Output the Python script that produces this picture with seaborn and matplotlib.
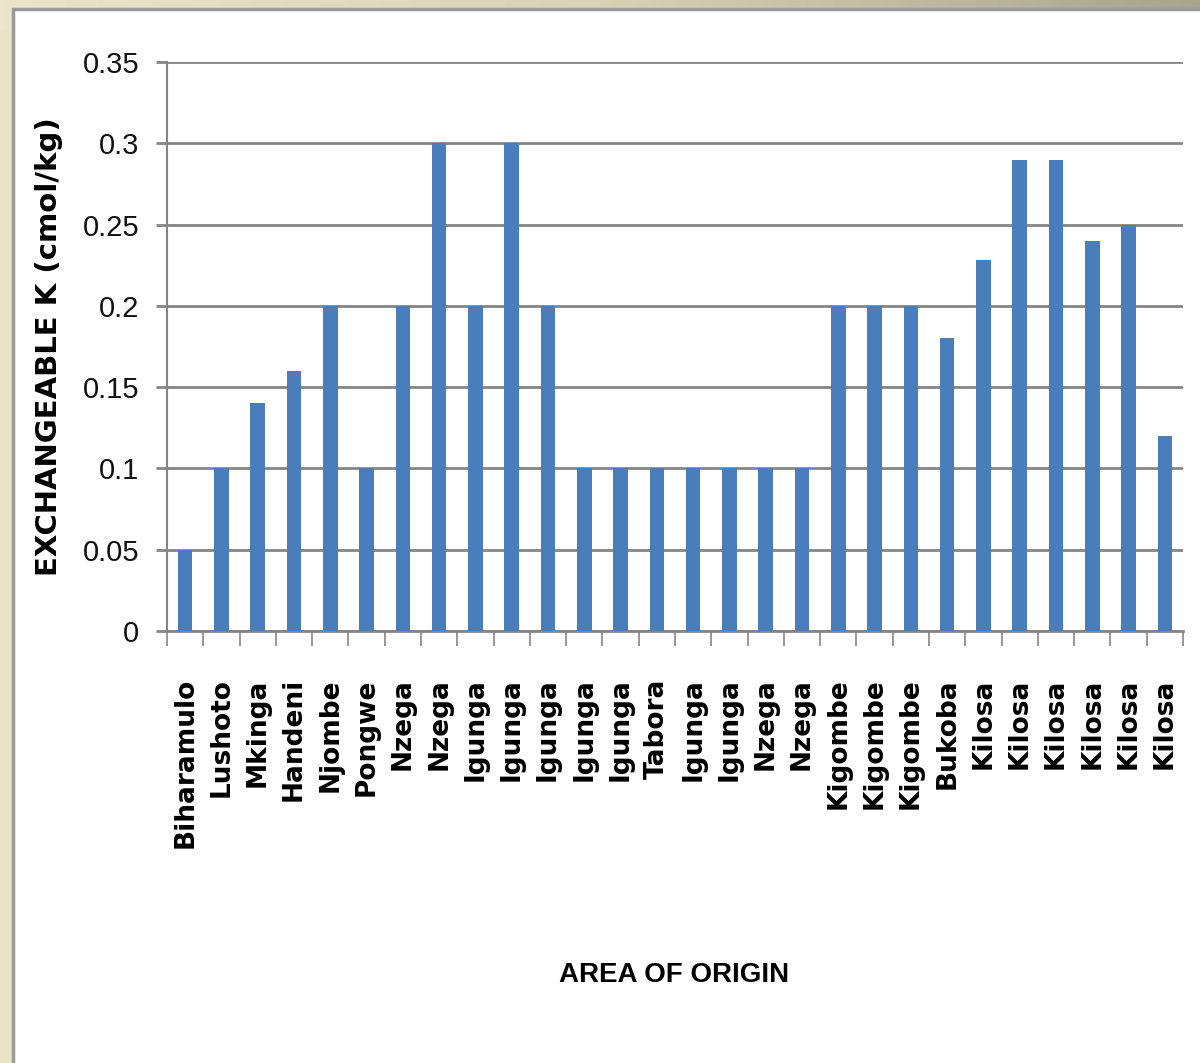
import matplotlib
matplotlib.use("Agg")
import matplotlib.pyplot as plt
from matplotlib.patches import Rectangle
from matplotlib.colors import LinearSegmentedColormap
import numpy as np
import seaborn as sns
import pandas as pd

areas = ["Biharamulo", "Lushoto", "Mkinga", "Handeni", "Njombe", "Pongwe",
         "Nzega", "Nzega", "Igunga", "Igunga", "Igunga", "Igunga", "Igunga",
         "Tabora", "Igunga", "Igunga", "Nzega", "Nzega", "Kigombe", "Kigombe",
         "Kigombe", "Bukoba", "Kilosa", "Kilosa", "Kilosa", "Kilosa", "Kilosa",
         "Kilosa"]
exch_k = [0.05, 0.10, 0.14, 0.16, 0.20, 0.10, 0.20, 0.30, 0.20, 0.30, 0.20,
          0.10, 0.10, 0.10, 0.10, 0.10, 0.10, 0.10, 0.20, 0.20, 0.20, 0.18,
          0.228, 0.29, 0.29, 0.24, 0.25, 0.12]
y_ticks = [0, 0.05, 0.1, 0.15, 0.2, 0.25, 0.3, 0.35]
y_tick_labels = ["0", "0.05", "0.1", "0.15", "0.2", "0.25", "0.3", "0.35"]

df = pd.DataFrame({"sample": [str(i) for i in range(len(areas))],
                   "area": areas, "k": exch_k})

sns.set_theme(style="white")
plt.rcParams["font.family"] = ["DejaVu Sans"]

W, H = 1200, 1063
fig = plt.figure(figsize=(W / 100, H / 100), dpi=100, facecolor="#e9e3c8")

# slide background: beige-to-taupe wash, white panel with thin grey frame
bg = fig.add_axes([0, 0, 1, 1], zorder=-10)
bg.set_axis_off()
wash = LinearSegmentedColormap.from_list("wash", ["#ebe5cb", "#d8d2b6", "#a8a48d"])
gx = np.linspace(0, 1, 256)
bg.imshow(np.tile(gx, (2, 1)), cmap=wash, aspect="auto",
          extent=[0, 1, 0, 1], origin="lower")
bg.set_xlim(0, 1)
bg.set_ylim(0, 1)
bg.add_patch(Rectangle((0, 0), 13 / W, 1 - 30 / H, facecolor="#e9e3c8",
                       edgecolor="none"))
bg.add_patch(Rectangle((13 / W, -0.01), 1 - 13 / W + 0.01, 1 - 9 / H + 0.01,
                       facecolor="white", edgecolor="#9a9a9a", linewidth=2.5))

ax = fig.add_axes([167 / W, 1 - 631 / H, (1183 - 167) / W, (631 - 62) / H])
ax.set_facecolor("none")

sns.barplot(data=df, x="sample", y="k", color="#4a7ebb", width=0.4,
            saturation=1, linewidth=0, edgecolor="#4a7ebb", ax=ax, zorder=3)

ax.set_xlim(-0.5, len(areas) - 0.5)
ax.set_ylim(0, 0.35)
ax.set_yticks(y_ticks)
ax.set_yticklabels(y_tick_labels, family=["Liberation Sans", "DejaVu Sans"],
                   fontsize=21, color="#111111")
ax.yaxis.grid(True, color="#858585", linewidth=2, zorder=0)
ax.set_axisbelow(True)

ax.set_xticks(range(len(areas)))
ax.set_xticklabels(areas, rotation=90, fontsize=19, fontweight="bold",
                   color="black")
ax.set_xticks([i + 0.5 for i in range(-1, len(areas))], minor=True)
ax.tick_params(axis="x", which="major", length=0, pad=34)
ax.tick_params(axis="x", which="minor", length=11, width=1.2, color="#858585",
               bottom=True)
ax.tick_params(axis="y", length=8, width=2, color="#858585", left=True, pad=12)

for side in ["top", "right"]:
    ax.spines[side].set_visible(False)
ax.spines["left"].set_color("#858585")
ax.spines["left"].set_linewidth(1.5)
ax.spines["bottom"].set_color("#858585")
ax.spines["bottom"].set_linewidth(2)

ax.set_ylabel("EXCHANGEABLE K (cmol/kg)", fontsize=21, fontweight="bold",
              color="black", labelpad=14)
ax.set_xlabel("")
fig.text(674 / W, 1 - 975 / H, "AREA OF ORIGIN", ha="center", va="center",
         family=["Liberation Sans", "DejaVu Sans"], fontsize=20,
         fontweight="bold", color="black")

fig.savefig("out.png", dpi=100, facecolor=fig.get_facecolor())
